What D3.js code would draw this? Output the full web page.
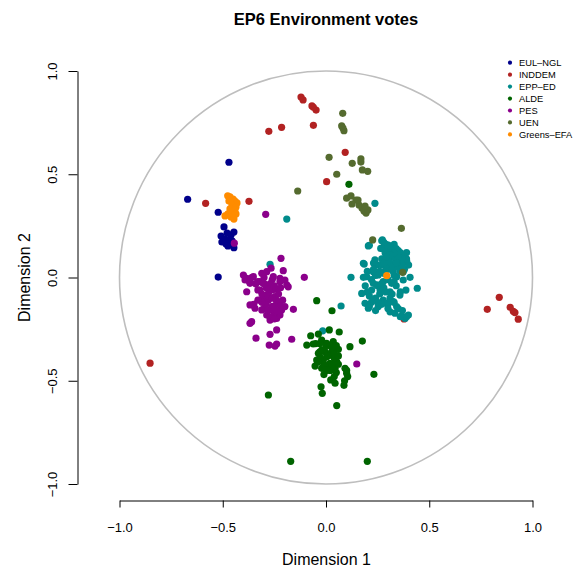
<!DOCTYPE html>
<html>
<head>
<meta charset="utf-8">
<script src="https://cdn.jsdelivr.net/npm/d3@7"></script>
<style>
  html, body { margin: 0; padding: 0; background: #fff; }
  svg { display: block; font-family: "Liberation Sans", Arial, Helvetica, sans-serif; }
</style>
</head>
<body>
<svg id="chart" width="574" height="569"></svg>
<script>
// Party groups, legend order
const parties = ["EUL\u2013NGL", "INDDEM", "EPP\u2013ED", "ALDE", "PES", "UEN", "Greens\u2013EFA"];
const partyColors = ["#00008B", "#B22222", "#008B8B", "#006400", "#8B008B", "#556B2F", "#FF8C00"];

// Ideal points [dimension 1, dimension 2] per group
const eulNgl = [
  [-0.470, 0.558], [-0.670, 0.379], [-0.522, 0.316], [-0.494, 0.245], [-0.479, 0.215],
  [-0.460, 0.206], [-0.446, 0.220], [-0.508, 0.201], [-0.489, 0.186], [-0.470, 0.182],
  [-0.504, 0.172], [-0.484, 0.162], [-0.455, 0.177], [-0.450, 0.157], [-0.475, 0.153],
  [-0.446, 0.144], [-0.522, 0.002]
];
const inddem = [
  [-0.121, 0.874], [-0.111, 0.860], [-0.068, 0.831], [-0.048, 0.811], [-0.061, 0.824],
  [-0.061, 0.737], [-0.215, 0.727], [-0.277, 0.708], [0.093, 0.606], [0.003, 0.464],
  [-0.583, 0.359], [-0.373, 0.369], [-0.852, -0.415], [0.839, -0.096], [0.781, -0.154],
  [0.892, -0.144], [0.907, -0.164], [0.915, -0.170], [0.931, -0.202], [0.378, -0.201]
];
const eppEd = [
  [0.237, 0.359], [-0.190, 0.283], [-0.271, 0.064], [-0.016, -0.258], [0.273, 0.182],
  [0.205, 0.153], [0.265, 0.141], [0.302, 0.157], [0.286, 0.120], [0.326, 0.141],
  [0.342, 0.117], [0.367, 0.109], [0.383, 0.093], [0.391, 0.077], [0.358, 0.085],
  [0.334, 0.093], [0.185, 0.065], [0.237, 0.085], [0.246, 0.061], [0.229, 0.028],
  [0.121, 0.001], [0.181, 0.001], [0.197, 0.004], [0.253, 0.012], [0.326, 0.028],
  [0.350, 0.061], [0.342, 0.004], [0.407, 0.001], [0.442, -0.052], [0.387, -0.061],
  [0.318, -0.028], [0.277, -0.020], [0.229, -0.028], [0.173, -0.077], [0.221, -0.061],
  [0.262, -0.061], [0.310, -0.069], [0.358, -0.085], [0.189, -0.125], [0.229, -0.109],
  [0.277, -0.109], [0.326, -0.117], [0.205, -0.149], [0.253, -0.141], [0.310, -0.166],
  [0.334, -0.173], [0.367, -0.186], [0.399, -0.182], [0.383, -0.198], [0.073, -0.138],
  [0.350, 0.052], [0.374, 0.028], [0.286, 0.028], [0.270, 0.061], [0.302, 0.085],
  [0.318, 0.052], [0.374, -0.012], [0.246, -0.036], [0.342, -0.141], [0.294, -0.125],
  [0.275, 0.141], [0.210, 0.156], [0.270, 0.178], [0.181, 0.069],
  [0.30, 0.13], [0.32, 0.10], [0.35, 0.13], [0.37, 0.07], [0.36, 0.03], [0.33, 0.01],
  [0.30, -0.01], [0.28, -0.05], [0.26, -0.08], [0.24, -0.10], [0.25, -0.04], [0.22, -0.01],
  [0.20, 0.03], [0.23, 0.07], [0.27, 0.09], [0.29, 0.05], [0.31, 0.07], [0.34, -0.04],
  [0.32, -0.08], [0.30, -0.13], [0.24, -0.16], [0.27, -0.13], [0.36, -0.19], [0.39, 0.12],
  [0.38, 0.04], [0.21, -0.09], [0.19, -0.04], [0.40, 0.06], [0.33, 0.16], [0.29, 0.16],
  [0.28, 0.17], [0.31, 0.15], [0.34, 0.14], [0.36, 0.12], [0.38, 0.10], [0.39, 0.09],
  [0.37, 0.09], [0.35, 0.10], [0.33, 0.12], [0.31, 0.11], [0.29, 0.10], [0.28, 0.07],
  [0.30, 0.04], [0.32, 0.04], [0.35, 0.05], [0.37, 0.05], [0.34, 0.07], [0.28, 0.02],
  [0.26, 0.03], [0.24, 0.01], [0.27, -0.03], [0.29, -0.07], [0.31, -0.10], [0.33, -0.12],
  [0.35, -0.15], [0.37, -0.16], [0.30, -0.15], [0.25, -0.12], [0.22, -0.12], [0.21, -0.14],
  [0.39, -0.19], [0.36, -0.07], [0.33, -0.02], [0.20, -0.07], [0.23, 0.04]
];
const alde = [
  [0.111, 0.451], [-0.045, -0.112], [0.029, -0.161], [0.016, -0.254], [0.064, -0.264],
  [-0.074, -0.282], [-0.037, -0.274], [0.176, -0.308], [-0.093, -0.327], [-0.062, -0.322],
  [-0.021, -0.303], [0.003, -0.319], [0.035, -0.311], [0.116, -0.335], [0.060, -0.348],
  [-0.037, -0.367], [-0.005, -0.359], [0.028, -0.375], [-0.045, -0.400], [-0.013, -0.400],
  [0.019, -0.416], [0.052, -0.408], [-0.053, -0.429], [-0.021, -0.440], [0.011, -0.440],
  [0.044, -0.440], [0.092, -0.440], [0.100, -0.464], [0.105, -0.480], [0.232, -0.469],
  [0.023, -0.496], [0.044, -0.512], [0.087, -0.522], [-0.024, -0.529], [-0.018, -0.561],
  [0.052, -0.620], [-0.279, -0.569], [0.028, -0.435], [-0.029, -0.384], [0.003, -0.384],
  [-0.171, -0.890], [0.200, -0.890],
  [0.00, -0.33], [0.03, -0.35], [0.01, -0.37], [-0.01, -0.42], [0.04, -0.39],
  [0.06, -0.42], [-0.03, -0.36], [0.02, -0.45], [0.05, -0.46], [0.10, -0.45],
  [-0.05, -0.32], [-0.03, -0.32], [0.02, -0.33], [0.05, -0.33], [-0.02, -0.35],
  [0.04, -0.37], [0.06, -0.38], [-0.04, -0.41], [0.03, -0.42], [0.00, -0.45],
  [0.04, -0.48], [-0.01, -0.47], [0.09, -0.50], [0.01, -0.38]
];
const pes = [
  [-0.292, 0.306], [-0.444, 0.166], [0.149, -0.419], [-0.218, 0.093], [-0.207, 0.033],
  [-0.266, 0.045], [-0.105, 0.001], [-0.400, 0.012], [-0.392, -0.012], [-0.352, 0.004],
  [-0.311, 0.020], [-0.287, 0.028], [-0.255, 0.004], [-0.223, -0.004], [-0.384, -0.069],
  [-0.368, -0.028], [-0.304, -0.028], [-0.271, -0.036], [-0.183, -0.045], [-0.320, -0.061],
  [-0.279, -0.077], [-0.247, -0.093], [-0.320, -0.109], [-0.295, -0.125], [-0.368, -0.133],
  [-0.344, -0.149], [-0.255, -0.141], [-0.215, -0.157], [-0.158, -0.154], [-0.287, -0.182],
  [-0.239, -0.198], [-0.271, -0.206], [-0.368, -0.222], [-0.360, -0.214], [-0.239, -0.254],
  [-0.339, -0.294], [-0.271, -0.275], [-0.166, -0.299], [-0.275, -0.327], [-0.239, -0.322],
  [-0.247, -0.332], [-0.190, -0.036], [-0.223, -0.020], [-0.199, -0.012], [-0.239, -0.057],
  [-0.223, -0.125], [-0.199, -0.141], [-0.271, -0.157], [-0.311, -0.157], [-0.223, -0.182],
  [-0.295, -0.093], [-0.320, -0.020], [-0.384, -0.004],
  [-0.26, -0.06], [-0.28, -0.11], [-0.24, -0.13], [-0.30, -0.15], [-0.25, -0.17],
  [-0.27, -0.19], [-0.29, -0.05], [-0.23, -0.08], [-0.26, -0.01], [-0.31, -0.08],
  [-0.21, -0.11], [-0.34, -0.03],
  [-0.36, 0.00], [-0.33, -0.02], [-0.30, -0.03], [-0.27, -0.03], [-0.25, -0.04],
  [-0.22, -0.05], [-0.33, -0.06], [-0.28, -0.09], [-0.26, -0.10], [-0.24, -0.11],
  [-0.22, -0.14], [-0.26, -0.14], [-0.29, -0.13], [-0.31, -0.12], [-0.33, -0.11],
  [-0.35, -0.13], [-0.25, -0.20], [-0.28, -0.16], [-0.24, -0.16], [-0.30, 0.00],
  [-0.37, -0.02]
];
const uen = [
  [0.081, 0.795], [0.076, 0.734], [0.087, 0.711], [0.082, 0.724], [0.015, 0.582],
  [0.127, 0.553], [0.169, 0.574], [0.169, 0.559], [0.176, 0.521], [0.202, 0.514],
  [0.052, 0.500], [-0.137, 0.419], [0.100, 0.384], [0.121, 0.395], [0.145, 0.375],
  [0.126, 0.356], [0.160, 0.351], [0.174, 0.337], [0.184, 0.322], [0.194, 0.312],
  [0.203, 0.327], [0.189, 0.346], [0.155, 0.375], [0.365, 0.238], [0.226, 0.182],
  [0.371, 0.025]
];
const greensEfa = [
  [-0.476, 0.396], [-0.465, 0.390], [-0.450, 0.380], [-0.441, 0.370], [-0.431, 0.361],
  [-0.470, 0.370], [-0.455, 0.351], [-0.436, 0.341], [-0.465, 0.332], [-0.441, 0.327],
  [-0.450, 0.312], [-0.475, 0.308], [-0.489, 0.298], [-0.460, 0.293], [-0.446, 0.283],
  [-0.436, 0.308], [0.294, 0.009]
];

const xTicks = [-1.0, -0.5, 0.0, 0.5, 1.0];
const yTicks = [-1.0, -0.5, 0.0, 0.5, 1.0];

const groups = [eulNgl, inddem, eppEd, alde, pes, uen, greensEfa];
// Plotting order (later groups drawn on top)
const drawOrder = [1, 0, 2, 3, 4, 5, 6];

const svg = d3.select("#chart");

const x = d3.scaleLinear().domain([-1, 1]).range([119.5, 532.5]);
const y = d3.scaleLinear().domain([-1, 1]).range([484, 71]);
const fmt = d3.format(".1f");

// Title
svg.append("text")
  .attr("x", 326).attr("y", 25)
  .attr("text-anchor", "middle")
  .attr("font-size", 16.5).attr("font-weight", "bold")
  .text("EP6 Environment votes");

// Unit circle
svg.append("circle")
  .attr("cx", x(0)).attr("cy", y(0))
  .attr("r", x(1) - x(0))
  .attr("fill", "none")
  .attr("stroke", "#bebebe")
  .attr("stroke-width", 1.6);

// Points
const pts = [];
drawOrder.forEach(g => groups[g].forEach(p => pts.push({ g, p })));
svg.append("g").selectAll("circle")
  .data(pts).join("circle")
  .attr("cx", d => x(d.p[0]))
  .attr("cy", d => y(d.p[1]))
  .attr("r", 3.6)
  .attr("fill", d => partyColors[d.g]);

// Bottom axis
const xAxis = svg.append("g")
  .attr("transform", "translate(0,500.5)")
  .call(d3.axisBottom(x).tickValues(xTicks).tickFormat(fmt).tickSize(7).tickSizeOuter(0));
xAxis.selectAll("text").attr("y", 31).attr("dy", 0).attr("font-size", 13).attr("fill", "#000");
xAxis.selectAll("line, path").attr("stroke", "#000");
xAxis.attr("font-family", null);

// Left axis
const yAxis = svg.append("g")
  .attr("transform", "translate(77.5,0)")
  .call(d3.axisLeft(y).tickValues(yTicks).tickFormat(fmt).tickSize(9).tickSizeOuter(0));
yAxis.selectAll("text")
  .attr("x", 0).attr("y", 0).attr("dy", 0)
  .attr("text-anchor", "middle")
  .attr("transform", "translate(-20.5,0) rotate(-90)")
  .attr("font-size", 13).attr("fill", "#000");
yAxis.selectAll("line, path").attr("stroke", "#000");
yAxis.attr("font-family", null);

// Axis titles
svg.append("text")
  .attr("x", 326.5).attr("y", 565)
  .attr("text-anchor", "middle")
  .attr("font-size", 16)
  .text("Dimension 1");
svg.append("text")
  .attr("transform", `translate(30,${y(0)}) rotate(-90)`)
  .attr("text-anchor", "middle")
  .attr("font-size", 16)
  .text("Dimension 2");

// Legend
const legend = svg.append("g");
parties.forEach((name, i) => {
  const cy = 62.7 + i * 11.95;
  legend.append("circle").attr("cx", 510).attr("cy", cy).attr("r", 2.1).attr("fill", partyColors[i]);
  legend.append("text").attr("x", 519).attr("y", cy + 3.3)
    .attr("font-size", 9.3).text(name);
});
</script>
</body>
</html>
